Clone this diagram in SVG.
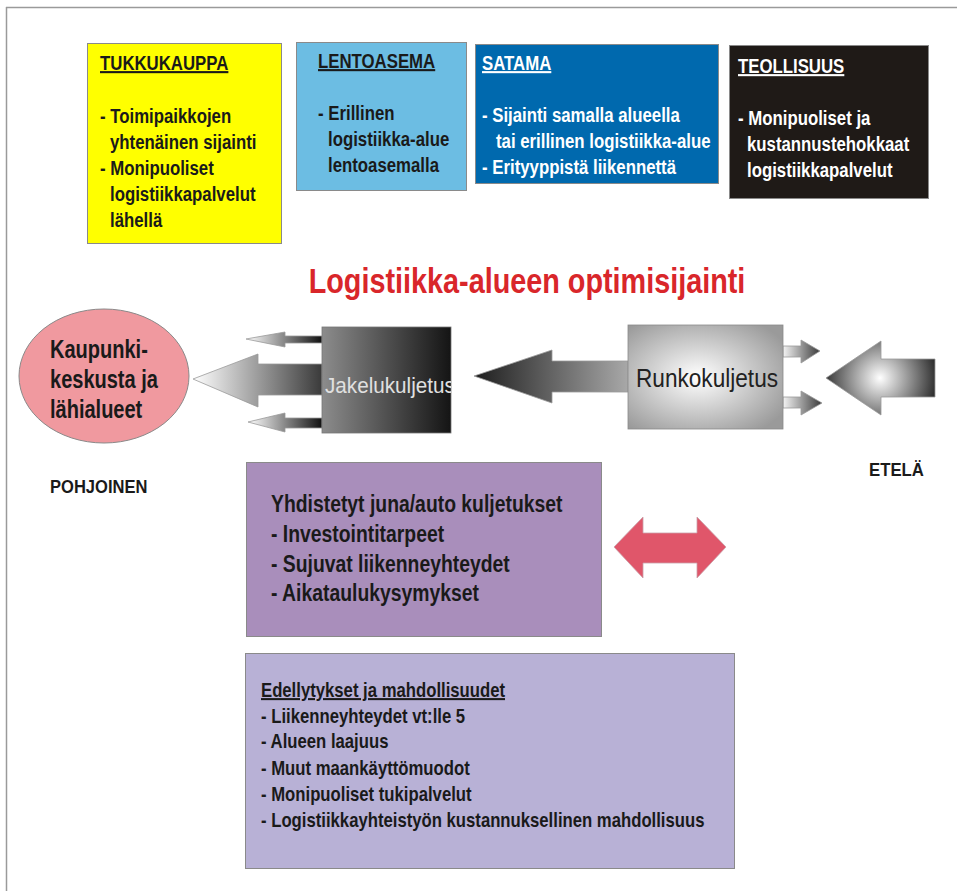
<svg xmlns="http://www.w3.org/2000/svg" width="957" height="891" viewBox="0 0 957 891">
<defs>
<style>
.t{font-family:"Liberation Sans",Arial,sans-serif;font-weight:bold}
.n{font-family:"Liberation Sans",Arial,sans-serif}
.u{text-decoration:underline}
.box{stroke:#8a8a8a;stroke-width:1}
</style>
<linearGradient id="gJbox" x1="0" y1="0" x2="1" y2="0"><stop offset="0" stop-color="#8c8c8c"/><stop offset="1" stop-color="#141414"/></linearGradient>
<linearGradient id="gJarr" gradientUnits="userSpaceOnUse" x1="193" y1="0" x2="322" y2="0"><stop offset="0" stop-color="#ffffff"/><stop offset="1" stop-color="#3a3a3a"/></linearGradient>
<linearGradient id="gSm" x1="0" y1="0" x2="1" y2="0"><stop offset="0" stop-color="#ffffff"/><stop offset="1" stop-color="#111111"/></linearGradient>
<linearGradient id="gRarr" gradientUnits="userSpaceOnUse" x1="474" y1="0" x2="628" y2="0"><stop offset="0" stop-color="#1e1e1e"/><stop offset="1" stop-color="#a8a8a8"/></linearGradient>
<radialGradient id="gRbox" cx="0.45" cy="0.5" r="0.65"><stop offset="0" stop-color="#ffffff"/><stop offset="1" stop-color="#9a9a9a"/></radialGradient>
<linearGradient id="gRsm" x1="0" y1="0" x2="1" y2="0"><stop offset="0" stop-color="#f4f4f4"/><stop offset="1" stop-color="#3a3a3a"/></linearGradient>
<radialGradient id="gFar" gradientUnits="userSpaceOnUse" cx="880" cy="378" r="60"><stop offset="0" stop-color="#ffffff"/><stop offset="1" stop-color="#222222"/></radialGradient>
<clipPath id="cJ"><rect x="322" y="327" width="129" height="106"/></clipPath>
</defs>

<g id="frame" stroke="#9a9a9a" stroke-width="1.5" fill="none">
<line x1="6" y1="7.5" x2="957" y2="7.5"/>
<line x1="6.5" y1="7" x2="6.5" y2="891"/>
</g>

<g id="tukkukauppa">
<rect class="box" x="87.5" y="43.5" width="194" height="200" fill="#ffff00"/>
<text class="t" font-size="21" fill="#1a1a1a" transform="translate(100,0) scale(0.8,1)">
<tspan class="u" x="0" y="70">TUKKUKAUPPA</tspan>
<tspan x="0" y="123">- Toimipaikkojen</tspan>
<tspan x="12.5" y="149">yhtenäinen sijainti</tspan>
<tspan x="0" y="175">- Monipuoliset</tspan>
<tspan x="12.5" y="201">logistiikkapalvelut</tspan>
<tspan x="12.5" y="227">lähellä</tspan>
</text>
</g>

<g id="lentoasema">
<rect class="box" x="296.5" y="42.5" width="170" height="148" fill="#6cbde3"/>
<text class="t" font-size="21" fill="#1a1a1a" transform="translate(318,0) scale(0.8,1)">
<tspan class="u" x="0" y="68">LENTOASEMA</tspan>
<tspan x="0" y="120">- Erillinen</tspan>
<tspan x="12.5" y="146">logistiikka-alue</tspan>
<tspan x="12.5" y="172">lentoasemalla</tspan>
</text>
</g>

<g id="satama">
<rect class="box" x="475.5" y="44.5" width="243" height="139" fill="#0069ae"/>
<text class="t" font-size="21" fill="#ffffff" transform="translate(482,0) scale(0.8,1)">
<tspan class="u" x="0" y="70">SATAMA</tspan>
<tspan x="0" y="122">- Sijainti samalla alueella</tspan>
<tspan x="17.5" y="148">tai erillinen logistiikka-alue</tspan>
<tspan x="0" y="174">- Erityyppistä liikennettä</tspan>
</text>
</g>

<g id="teollisuus">
<rect class="box" x="729.5" y="45.5" width="199" height="153" fill="#1f1a17"/>
<text class="t" font-size="21" fill="#ffffff" transform="translate(738,0) scale(0.8,1)">
<tspan class="u" x="0" y="73">TEOLLISUUS</tspan>
<tspan x="0" y="125">- Monipuoliset ja</tspan>
<tspan x="11.25" y="151">kustannustehokkaat</tspan>
<tspan x="11.25" y="177">logistiikkapalvelut</tspan>
</text>
</g>

<g id="title">
<text class="t" font-size="36" fill="#d9262a" x="0" y="293" text-anchor="middle" transform="translate(527,0) scale(0.8,1)">Logistiikka-alueen optimisijainti</text>
</g>

<g id="connectors" stroke="#9a9a9a" stroke-width="0.8">
<path id="arrJbig" d="M193,379 L258,354 L258,364 L322,364 L322,395 L258,395 L258,407 Z" fill="url(#gJarr)"/>
<path id="arrJup" d="M246,339 L285,332 L285,336 L322,336 L322,343 L285,343 L285,347 Z" fill="url(#gSm)"/>
<path id="arrJdn" d="M248,422 L285,413 L285,418 L322,418 L322,428 L285,428 L285,432 Z" fill="url(#gSm)"/>
<path id="arrRbig" d="M474,376 L552,350 L552,361 L628,361 L628,392 L552,392 L552,403 Z" fill="url(#gRarr)"/>
<path id="arrRup" d="M783,346 L801,346 L801,340 L820,351 L801,363 L801,357 L783,357 Z" fill="url(#gRsm)"/>
<path id="arrRdn" d="M783,397 L801,397 L801,391 L822,403 L801,415 L801,408 L783,408 Z" fill="url(#gRsm)"/>
<path id="arrSouth" d="M826,378 L881,341 L881,359 L935,359 L935,397 L881,397 L881,415 Z" fill="url(#gFar)"/>
<path id="arrDouble" d="M614,547 L643,517 L643,533 L697,533 L697,517 L726,547 L697,578 L697,563 L643,563 L643,578 Z" fill="#e0566a" stroke="#c9a0a8"/>
</g>

<g id="kaupunki">
<ellipse cx="104" cy="376" rx="85" ry="67" fill="#f0999f" stroke="#8a8a8a" stroke-width="1"/>
<text class="t" font-size="26" fill="#1a1a1a" transform="translate(50,0) scale(0.77,1)">
<tspan x="0" y="358">Kaupunki-</tspan>
<tspan x="0" y="388">keskusta ja</tspan>
<tspan x="0" y="418">lähialueet</tspan>
</text>
</g>

<g id="jakelukuljetus">
<rect x="322" y="327" width="129" height="106" fill="url(#gJbox)" stroke="#777" stroke-width="0.8"/>
<g clip-path="url(#cJ)">
<text class="n" font-size="22" fill="#e0e0e0" x="0" y="393" transform="translate(325,0) scale(0.94,1)">Jakelukuljetus</text>
</g>
</g>

<g id="runkokuljetus">
<rect x="628" y="325" width="155" height="104" fill="url(#gRbox)" stroke="#8a8a8a" stroke-width="0.8"/>
<text class="n" font-size="26" fill="#222" x="0" y="387" transform="translate(636,0) scale(0.87,1)">Runkokuljetus</text>
</g>

<g id="pohjoinen"><text class="t" font-size="18" fill="#1a1a1a" x="0" y="493" transform="translate(50,0) scale(0.92,1)">POHJOINEN</text></g>
<g id="etela"><text class="t" font-size="18" fill="#1a1a1a" x="0" y="476" transform="translate(869,0) scale(0.93,1)">ETELÄ</text></g>

<g id="yhdistetyt">
<rect class="box" x="246.5" y="462.5" width="355" height="174" fill="#a98ebb"/>
<text class="t" font-size="23" fill="#1a1a1a" transform="translate(271,0) scale(0.842,1)">
<tspan x="0" y="512">Yhdistetyt juna/auto kuljetukset</tspan>
<tspan x="0" y="542">- Investointitarpeet</tspan>
<tspan x="0" y="572">- Sujuvat liikenneyhteydet</tspan>
<tspan x="0" y="601">- Aikataulukysymykset</tspan>
</text>
</g>

<g id="edellytykset">
<rect class="box" x="245.5" y="653.5" width="489" height="215" fill="#b8b1d6"/>
<text class="t" font-size="20.5" fill="#1a1a1a" transform="translate(261,0) scale(0.815,1)">
<tspan class="u" x="0" y="697">Edellytykset ja mahdollisuudet</tspan>
<tspan x="0" y="723">- Liikenneyhteydet vt:lle 5</tspan>
<tspan x="0" y="748">- Alueen laajuus</tspan>
<tspan x="0" y="775">- Muut maankäyttömuodot</tspan>
<tspan x="0" y="801">- Monipuoliset tukipalvelut</tspan>
<tspan x="0" y="827">- Logistiikkayhteistyön kustannuksellinen mahdollisuus</tspan>
</text>
</g>
</svg>
